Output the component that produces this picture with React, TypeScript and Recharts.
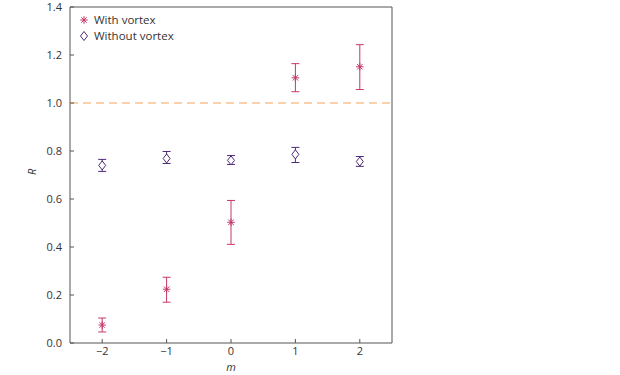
import { ScatterChart, Scatter, XAxis, YAxis, ErrorBar, ReferenceLine, ReferenceArea, Legend } from 'recharts';

const mValues = [-2, -1, 0, 1, 2];
const withVortex = [0.075, 0.224, 0.503, 1.105, 1.151];
const withLow = [0.046, 0.170, 0.411, 1.047, 1.056];
const withHigh = [0.104, 0.274, 0.594, 1.164, 1.243];
const withoutVortex = [0.740, 0.769, 0.761, 0.786, 0.756];
const withoutLow = [0.715, 0.748, 0.744, 0.752, 0.736];
const withoutHigh = [0.765, 0.798, 0.781, 0.815, 0.777];
const xTicks = [-2, -1, 0, 1, 2];
const yTicks = [0, 0.2, 0.4, 0.6, 0.8, 1.0, 1.2, 1.4];

const PINK = '#c4386c';
const PURPLE = '#4e2a78';

const build = (vals: number[], lo: number[], hi: number[]) =>
    mValues.map((m, i) => ({ m, r: vals[i], err: [vals[i] - lo[i], hi[i] - vals[i]] }));

const withData = build(withVortex, withLow, withHigh);
const withoutData = build(withoutVortex, withoutLow, withoutHigh);

const Asterisk = (props: any) => {
    const { cx, cy } = props;
    const a = 3.8;
    const d = a * 0.72;
    return (
        <g stroke={PINK} strokeWidth={1}>
            <line x1={cx - a} y1={cy} x2={cx + a} y2={cy} />
            <line x1={cx} y1={cy - a} x2={cx} y2={cy + a} />
            <line x1={cx - d} y1={cy - d} x2={cx + d} y2={cy + d} />
            <line x1={cx - d} y1={cy + d} x2={cx + d} y2={cy - d} />
        </g>
    );
};

const Diamond = (props: any) => {
    const { cx, cy } = props;
    return (
        <path
            d={`M${cx},${cy - 4.5} L${cx + 3.5},${cy} L${cx},${cy + 4.5} L${cx - 3.5},${cy} Z`}
            fill="#fff"
            stroke={PURPLE}
            strokeWidth={1}
        />
    );
};

const fmt = (v: number) => (v < 0 ? `\u2212${Math.abs(v)}` : `${v}`);

const renderLegend = () => (
    <div style={{ fontSize: 11.5, color: '#333', lineHeight: '16px' }}>
        <div style={{ display: 'flex', alignItems: 'center' }}>
            <svg width={14} height={12}><Asterisk cx={6} cy={6} /></svg>
            <span style={{ marginLeft: 2 }}>With vortex</span>
        </div>
        <div style={{ display: 'flex', alignItems: 'center' }}>
            <svg width={14} height={12}><Diamond cx={6} cy={6} /></svg>
            <span style={{ marginLeft: 2 }}>Without vortex</span>
        </div>
    </div>
);

export default function App() {
    return (
        <div style={{ position: 'absolute', left: 0, top: 0, fontFamily: '"Open Sans", sans-serif', background: '#fff' }}>
            <ScatterChart width={620} height={375} margin={{ top: 7, right: 228, bottom: 0, left: 30 }}>
                <XAxis
                    type="number"
                    dataKey="m"
                    domain={[-2.5, 2.5]}
                    ticks={xTicks}
                    tickFormatter={fmt}
                    axisLine={false}
                    tickSize={-4}
                    tickMargin={8}
                    height={32}
                    tick={{ fill: '#333', fontSize: 11 }}
                    tickLine={{ stroke: '#555' }}
                    label={{ value: 'm', position: 'insideBottom', offset: 4, fill: '#333', fontSize: 11, fontStyle: 'italic' }}
                />
                <YAxis
                    type="number"
                    dataKey="r"
                    domain={[0, 1.4]}
                    ticks={yTicks}
                    tickFormatter={(v: number) => v.toFixed(1)}
                    axisLine={false}
                    tickSize={-4}
                    tickMargin={12}
                    width={40}
                    tick={{ fill: '#333', fontSize: 11 }}
                    tickLine={{ stroke: '#555' }}
                    label={{ value: 'R', angle: -90, position: 'insideLeft', offset: 2, fill: '#333', fontSize: 11, fontStyle: 'italic' }}
                />
                <ReferenceArea x1={-2.5} x2={2.5} y1={0} y2={1.4} fill="none" stroke="#555" strokeWidth={1} />
                <ReferenceLine y={1.0} stroke="#f2a35a" strokeDasharray="8 5" strokeWidth={1} />
                <Legend
                    layout="horizontal"
                    verticalAlign="middle"
                    align="center"
                    content={renderLegend}
                    wrapperStyle={{ left: 78, top: 12, width: 'auto' }}
                />
                <Scatter name="With vortex" data={withData} shape={Asterisk} isAnimationActive={false}>
                    <ErrorBar dataKey="err" direction="y" width={4} stroke={PINK} strokeWidth={1} />
                </Scatter>
                <Scatter name="Without vortex" data={withoutData} shape={Diamond} isAnimationActive={false}>
                    <ErrorBar dataKey="err" direction="y" width={4} stroke={PURPLE} strokeWidth={1} />
                </Scatter>
            </ScatterChart>
        </div>
    );
}
